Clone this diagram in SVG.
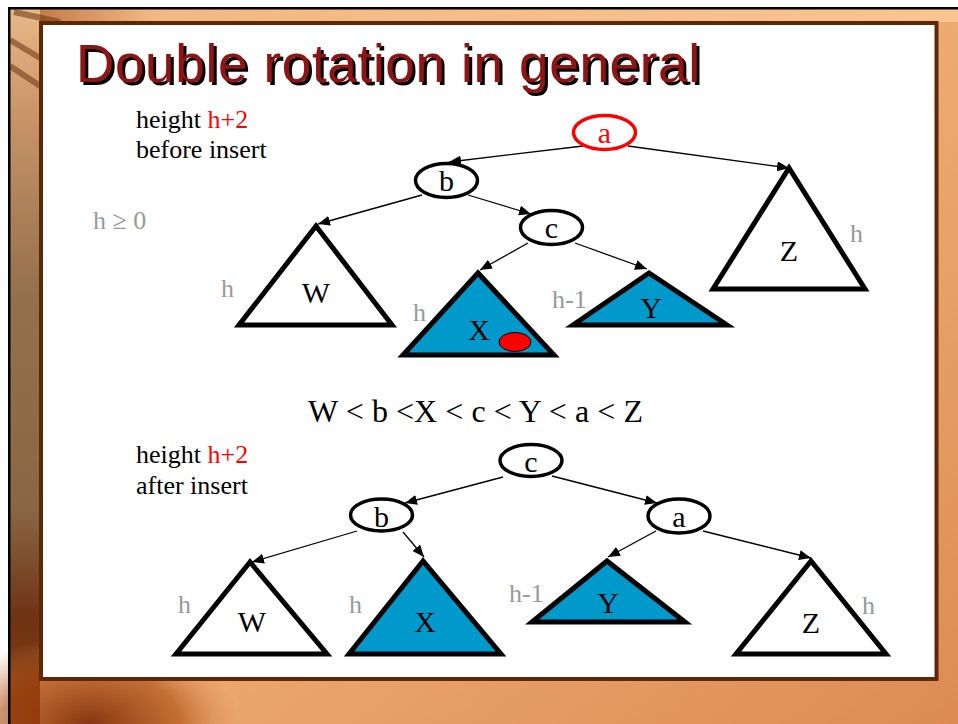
<svg xmlns="http://www.w3.org/2000/svg" width="958" height="724" viewBox="0 0 958 724">
<defs>
<linearGradient id="bg" x1="0" y1="0" x2="1" y2="1">
<stop offset="0" stop-color="#f6c48e"/>
<stop offset="0.5" stop-color="#eeac72"/>
<stop offset="1" stop-color="#dc8c52"/>
</linearGradient>
<linearGradient id="leftband" x1="0" y1="0" x2="0" y2="1">
<stop offset="0" stop-color="#e8b888"/>
<stop offset="0.15" stop-color="#c89468"/>
<stop offset="0.4" stop-color="#94704c"/>
<stop offset="0.7" stop-color="#8a6644"/>
<stop offset="0.85" stop-color="#6e3414"/>
<stop offset="1" stop-color="#8a3a10"/>
</linearGradient>
<linearGradient id="topband" x1="0" y1="0" x2="1" y2="0">
<stop offset="0" stop-color="#b86a3a"/>
<stop offset="0.15" stop-color="#f2b884"/>
<stop offset="1" stop-color="#f8c490"/>
</linearGradient>
<radialGradient id="swirl" cx="0.5" cy="0.5" r="0.5">
<stop offset="0" stop-color="#7a2a08" stop-opacity="0.9"/>
<stop offset="0.6" stop-color="#a8480e" stop-opacity="0.6"/>
<stop offset="1" stop-color="#d8884c" stop-opacity="0"/>
</radialGradient>
<filter id="shadow" x="-5%" y="-20%" width="110%" height="140%">
<feDropShadow dx="3" dy="3" stdDeviation="0" flood-color="#000" flood-opacity="1"/>
</filter>
<marker id="arr" markerUnits="userSpaceOnUse" markerWidth="13" markerHeight="10" refX="12" refY="5" orient="auto">
<path d="M0,0 L12,5 L0,10 z" fill="#000"/>
</marker>
<style>
.edge{stroke:#000;stroke-width:1.3;fill:none;marker-end:url(#arr)}
.node{fill:#fff;stroke:#000;stroke-width:3.5}
.tri{stroke:#000;stroke-width:5;stroke-linejoin:miter}
.white{fill:#fff}
.blue{fill:#0099cc}
.t{font-family:"Liberation Serif","Times New Roman",serif;fill:#000}
.lbl{font-size:30px;text-anchor:middle}
.gray{fill:#999999;font-size:26px}
.body{font-size:26px}
.red{fill:#ff0000}
.title{font-family:"Liberation Sans",Arial,sans-serif;font-size:53px}
</style>
</defs>

<!-- slide background -->
<rect x="0" y="0" width="958" height="724" fill="#fff"/>
<rect x="8" y="7" width="950" height="717" fill="url(#bg)"/>
<rect x="10" y="9" width="948" height="13" fill="url(#topband)"/>
<rect x="10" y="9" width="30" height="715" fill="url(#leftband)"/>
<g opacity="0.55" stroke="#6a3410" stroke-width="6" fill="none">
<path d="M10,40 L40,58"/>
<path d="M10,66 L40,86"/>
<path d="M14,12 L60,22"/>
</g>
<ellipse cx="90" cy="724" rx="150" ry="90" fill="url(#swirl)"/>
<rect x="8" y="7" width="950" height="2.5" fill="#000"/>
<rect x="8" y="7" width="2.5" height="717" fill="#000"/>

<!-- panel -->
<rect x="41" y="23" width="895.5" height="656" fill="#fff" stroke="#5c2806" stroke-width="4"/>

<!-- title -->
<text x="76" y="82" class="title" fill="#8c1414" textLength="624" filter="url(#shadow)">Double rotation in general</text>

<!-- captions -->
<text x="136" y="128" class="t body">height <tspan class="red">h+2</tspan></text>
<text x="136" y="158" class="t body">before insert</text>
<text x="93" y="229" class="t gray">h ≥ 0</text>
<text x="308" y="422" class="t" font-size="32" textLength="335">W &lt; b &lt;X &lt; c &lt; Y &lt; a &lt; Z</text>
<text x="136" y="463" class="t body">height <tspan class="red">h+2</tspan></text>
<text x="136" y="494" class="t body">after insert</text>

<!-- connectors -->
<g id="connectors">
<line class="edge" x1="583" y1="146" x2="449" y2="162"/>
<line class="edge" x1="628" y1="146" x2="789" y2="168"/>
<line class="edge" x1="422" y1="195" x2="318" y2="224"/>
<line class="edge" x1="468" y1="195" x2="531" y2="214"/>
<line class="edge" x1="528" y1="243" x2="480" y2="270"/>
<line class="edge" x1="575" y1="243" x2="647" y2="269"/>
<line class="edge" x1="503" y1="477" x2="405" y2="503"/>
<line class="edge" x1="552" y1="476" x2="657" y2="503" stroke-width="2"/>
<line class="edge" x1="357" y1="531" x2="252" y2="562"/>
<line class="edge" x1="403" y1="532" x2="424" y2="557"/>
<line class="edge" x1="656" y1="531" x2="608" y2="557"/>
<line class="edge" x1="703" y1="531" x2="811" y2="558"/>
</g>

<!-- top tree -->
<g id="top-a">
<ellipse cx="604.5" cy="132.5" rx="31" ry="17" fill="#fff" stroke="#ff0000" stroke-width="3.5"/>
<text x="604.5" y="143" class="t lbl red">a</text>
</g>
<g id="top-b">
<ellipse class="node" cx="446.5" cy="180.5" rx="31" ry="17"/>
<text x="446.5" y="191" class="t lbl">b</text>
</g>
<g id="top-c">
<ellipse class="node" cx="551.5" cy="227.5" rx="31" ry="17"/>
<text x="551.5" y="238" class="t lbl">c</text>
</g>
<g id="top-W">
<polygon class="tri white" points="316,226 239,325 392,325"/>
<text x="316" y="303" class="t lbl">W</text>
<text x="221" y="297" class="t gray">h</text>
</g>
<g id="top-X">
<polygon class="tri blue" points="478,273 403,355 554,355"/>
<text x="479" y="340" class="t lbl">X</text>
<ellipse cx="515" cy="342" rx="16" ry="9.5" fill="#ff0000" stroke="#000" stroke-width="1"/>
<text x="413" y="321" class="t gray">h</text>
</g>
<g id="top-Y">
<polygon class="tri blue" points="649,273 573,325 727,325"/>
<text x="651" y="318" class="t lbl">Y</text>
<text x="552" y="308" class="t gray">h-1</text>
</g>
<g id="top-Z">
<polygon class="tri white" points="789,168 713,289 865,289"/>
<text x="789" y="261" class="t lbl">Z</text>
<text x="850" y="242" class="t gray">h</text>
</g>

<!-- bottom tree -->
<g id="bot-c">
<ellipse class="node" cx="531" cy="460.5" rx="31" ry="16"/>
<text x="531" y="472" class="t lbl">c</text>
</g>
<g id="bot-b">
<ellipse class="node" cx="381.5" cy="515" rx="31" ry="16"/>
<text x="381.5" y="527" class="t lbl">b</text>
</g>
<g id="bot-a">
<ellipse class="node" cx="679" cy="516" rx="31" ry="17"/>
<text x="679" y="527" class="t lbl">a</text>
</g>
<g id="bot-W">
<polygon class="tri white" points="250,562 176,654 327,654"/>
<text x="252" y="632" class="t lbl">W</text>
<text x="178" y="613" class="t gray">h</text>
</g>
<g id="bot-X">
<polygon class="tri blue" points="423,561 349,654 501,654"/>
<text x="425" y="632" class="t lbl">X</text>
<text x="349" y="613" class="t gray">h</text>
</g>
<g id="bot-Y">
<polygon class="tri blue" points="607,561 532,622 685,622"/>
<text x="608" y="613" class="t lbl">Y</text>
<text x="509" y="602" class="t gray">h-1</text>
</g>
<g id="bot-Z">
<polygon class="tri white" points="811,561 736,654 886,654"/>
<text x="811" y="633" class="t lbl">Z</text>
<text x="862" y="614" class="t gray">h</text>
</g>
</svg>
